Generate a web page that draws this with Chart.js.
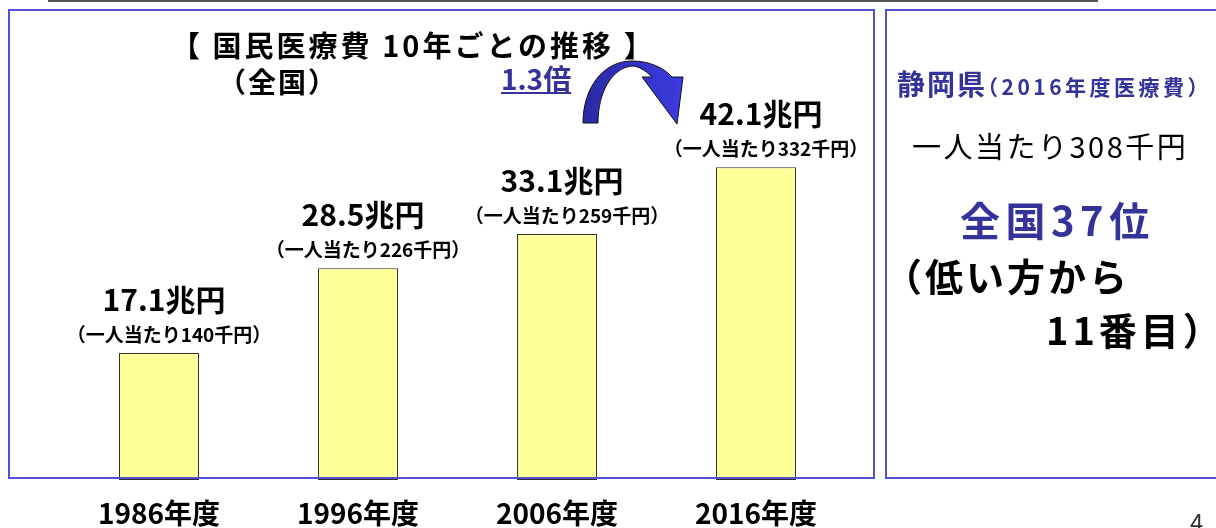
<!DOCTYPE html>
<html lang="ja">
<head>
<meta charset="utf-8">
<title>国民医療費 10年ごとの推移</title>
<script src="https://cdn.jsdelivr.net/npm/chart.js@4/dist/chart.umd.min.js"></script>
<style>
  html, body { margin: 0; padding: 0; background: #fff; }
  body { width: 1216px; height: 528px; position: relative; overflow: hidden;
         font-family: "Noto Sans CJK JP", "Noto Sans", sans-serif; color: #000; }
  #chart { position: absolute; left: 0; top: 0; }
  .abs { position: absolute; white-space: nowrap; }
  .panel { position: absolute; box-sizing: border-box; border: 2px solid #5252d4; z-index: 2; }
  .blue { color: #333399; }
</style>
</head>
<body>
<canvas id="chart" width="1216" height="528"></canvas>

<div class="abs" style="left:48px;top:0;width:1050px;height:2px;background:#555;"></div>
<div class="panel" style="left:8px;top:9px;width:867px;height:470px;"></div>
<div class="panel" style="left:885px;top:9px;width:400px;height:470px;"></div>

<div class="abs" style="left:171px;top:28px;font-size:29px;line-height:33px;font-weight:bold;letter-spacing:3px;">【 国民医療費 10年ごとの推移 】</div>
<div class="abs" style="left:218px;top:65px;font-size:28px;line-height:32px;font-weight:bold;letter-spacing:2px;">（全国）</div>
<div class="abs blue" style="left:501px;top:62px;font-size:28px;line-height:32px;font-weight:bold;text-decoration:underline;">1.3倍</div>

<svg class="abs" style="left:0;top:0;z-index:3;" width="1216" height="528">
  <defs>
    <linearGradient id="arrowFill" x1="0" y1="0" x2="1" y2="0">
      <stop offset="0" stop-color="#2a2aa6"/>
      <stop offset="1" stop-color="#3b3be0"/>
    </linearGradient>
  </defs>
  <path d="M583,123 C583,88 603,61 632,61 C650,61 664,68 672,77 L683,77 L677,124 L642,77 L652,77 C645,70 638,66 632,66 C612,68 598,92 598,123 Z"
        fill="url(#arrowFill)" stroke="#111" stroke-width="1"/>
</svg>

<div class="abs blue" style="left:897px;top:67px;font-weight:bold;line-height:32px;"><span style="font-size:28px;letter-spacing:2px;">静岡県</span><span style="font-size:21px;letter-spacing:3.5px;margin-left:-10px;">（2016年度医療費）</span></div>
<div class="abs" style="left:912px;top:128px;font-size:29px;line-height:34px;letter-spacing:2.5px;">一人当たり308千円</div>
<div class="abs blue" style="left:960px;top:197px;font-size:40px;line-height:44px;font-weight:bold;letter-spacing:5.5px;">全国37位</div>
<div class="abs" style="left:884px;top:254px;font-size:38px;line-height:42px;font-weight:bold;letter-spacing:3px;">（低い方から</div>
<div class="abs" style="left:1046px;top:308px;font-size:38px;line-height:42px;font-weight:bold;letter-spacing:4px;">11番目）</div>
<div class="abs" style="left:1190px;top:508px;font-size:24px;line-height:28px;color:#333;">4</div>

<script>
// 国民医療費 (兆円) と一人当たり (千円)
const years = ['1986年度', '1996年度', '2006年度', '2016年度'];
const totals = [17.1, 28.5, 33.1, 42.1];
const perCapita = [140, 226, 259, 332];

const valueLabels = {
  id: 'valueLabels',
  afterDatasetsDraw(chart) {
    const ctx = chart.ctx;
    chart.getDatasetMeta(0).data.forEach((bar, i) => {
      ctx.save();
      ctx.fillStyle = '#000';
      ctx.textAlign = 'center';
      ctx.font = 'bold 30px "Noto Sans CJK JP"';
      ctx.textBaseline = 'alphabetic';
      ctx.fillText(totals[i] + '兆円', bar.x + 5, bar.y - 42);
      ctx.font = 'bold 19px "Noto Sans CJK JP"';
      ctx.textBaseline = 'middle';
      ctx.fillText('（一人当たり' + perCapita[i] + '千円）', bar.x + 10, bar.y - 18);
      ctx.restore();
    });
  }
};

new Chart(document.getElementById('chart'), {
  type: 'bar',
  data: {
    labels: years,
    datasets: [{
      data: totals,
      backgroundColor: '#ffff99',
      borderColor: '#333',
      borderWidth: 1,
      borderSkipped: false,
      barPercentage: 0.402,
      categoryPercentage: 1
    }]
  },
  options: {
    responsive: false,
    devicePixelRatio: 1,
    animation: false,
    layout: { padding: { left: 59.5, right: 360.5, top: 0, bottom: 0 } },
    plugins: { legend: { display: false }, tooltip: { enabled: false } },
    scales: {
      x: {
        afterFit(scale) { scale.height = 48; },
        grid: { display: false },
        border: { display: false },
        ticks: {
          color: '#000',
          padding: 11,
          maxRotation: 0,
          font: { family: '"Noto Sans CJK JP"', size: 28, weight: 'bold', lineHeight: 1 }
        }
      },
      y: { display: false, min: 0, max: 64.6 }
    }
  },
  plugins: [valueLabels]
});
</script>
</body>
</html>
